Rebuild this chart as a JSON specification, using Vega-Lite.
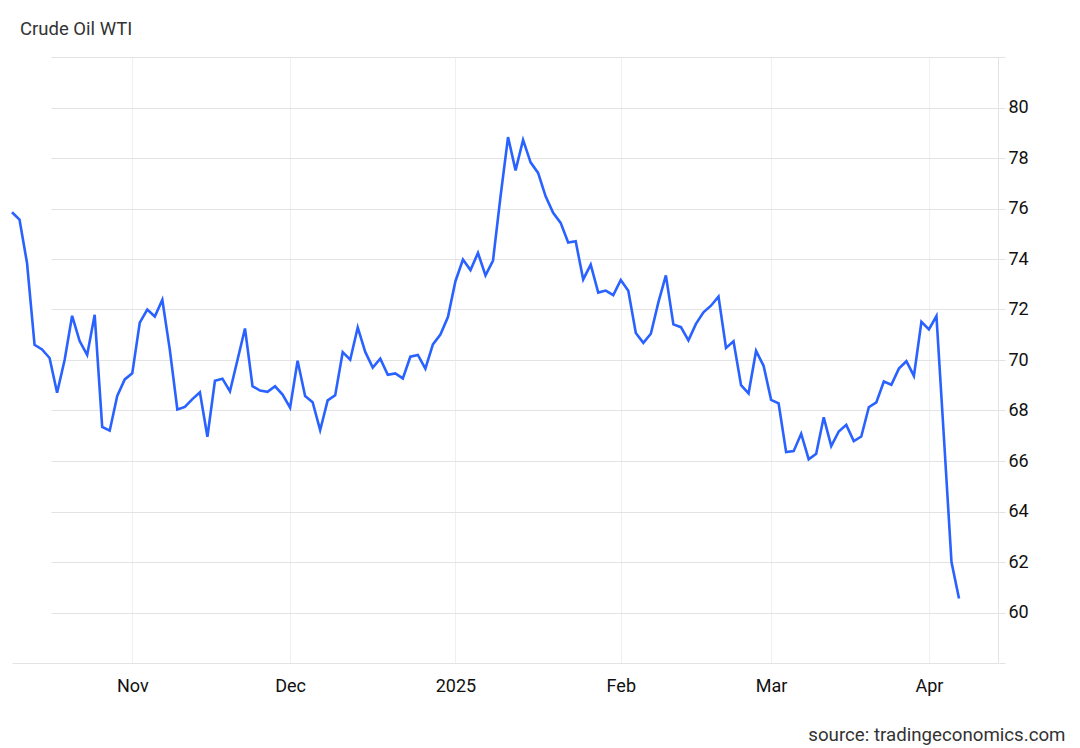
{
  "$schema": "https://vega.github.io/schema/vega-lite/v6.json",
  "autosize": {"type": "none"},
  "width": 986,
  "height": 606,
  "padding": {"left": 12, "top": 57, "right": 82, "bottom": 85},
  "background": "white",
  "config": {
    "font": "Roboto",
    "view": {"stroke": null}
  },
  "title": {
    "text": "Crude Oil WTI",
    "anchor": "start",
    "frame": "group",
    "font": "Roboto",
    "fontSize": 18.5,
    "fontWeight": "normal",
    "color": "#333333",
    "baseline": "alphabetic",
    "offset": 3,
    "dx": 8
  },
  "data": {
    "values": [
      {"date": "2024-10-10", "price": 75.85},
      {"date": "2024-10-11", "price": 75.56},
      {"date": "2024-10-14", "price": 73.84},
      {"date": "2024-10-15", "price": 70.6},
      {"date": "2024-10-16", "price": 70.42},
      {"date": "2024-10-17", "price": 70.08},
      {"date": "2024-10-18", "price": 68.7},
      {"date": "2024-10-21", "price": 70.0},
      {"date": "2024-10-22", "price": 71.75},
      {"date": "2024-10-23", "price": 70.75},
      {"date": "2024-10-24", "price": 70.2},
      {"date": "2024-10-25", "price": 71.79},
      {"date": "2024-10-28", "price": 67.35},
      {"date": "2024-10-29", "price": 67.2},
      {"date": "2024-10-30", "price": 68.58},
      {"date": "2024-10-31", "price": 69.23},
      {"date": "2024-11-01", "price": 69.47},
      {"date": "2024-11-04", "price": 71.48},
      {"date": "2024-11-05", "price": 72.0},
      {"date": "2024-11-06", "price": 71.72},
      {"date": "2024-11-07", "price": 72.38},
      {"date": "2024-11-08", "price": 70.4},
      {"date": "2024-11-11", "price": 68.04},
      {"date": "2024-11-12", "price": 68.14},
      {"date": "2024-11-13", "price": 68.45},
      {"date": "2024-11-14", "price": 68.72},
      {"date": "2024-11-15", "price": 66.96},
      {"date": "2024-11-18", "price": 69.18},
      {"date": "2024-11-19", "price": 69.26},
      {"date": "2024-11-20", "price": 68.76},
      {"date": "2024-11-21", "price": 70.0},
      {"date": "2024-11-22", "price": 71.25},
      {"date": "2024-11-25", "price": 68.96},
      {"date": "2024-11-26", "price": 68.79},
      {"date": "2024-11-27", "price": 68.74},
      {"date": "2024-11-28", "price": 68.96},
      {"date": "2024-11-29", "price": 68.63},
      {"date": "2024-12-02", "price": 68.11},
      {"date": "2024-12-03", "price": 69.97},
      {"date": "2024-12-04", "price": 68.57},
      {"date": "2024-12-05", "price": 68.33},
      {"date": "2024-12-06", "price": 67.22},
      {"date": "2024-12-09", "price": 68.4},
      {"date": "2024-12-10", "price": 68.6},
      {"date": "2024-12-11", "price": 70.31},
      {"date": "2024-12-12", "price": 70.01},
      {"date": "2024-12-13", "price": 71.29},
      {"date": "2024-12-16", "price": 70.32},
      {"date": "2024-12-17", "price": 69.7},
      {"date": "2024-12-18", "price": 70.05},
      {"date": "2024-12-19", "price": 69.41},
      {"date": "2024-12-20", "price": 69.47},
      {"date": "2024-12-23", "price": 69.27},
      {"date": "2024-12-24", "price": 70.13},
      {"date": "2024-12-25", "price": 70.2},
      {"date": "2024-12-26", "price": 69.66},
      {"date": "2024-12-27", "price": 70.62},
      {"date": "2024-12-30", "price": 71.01},
      {"date": "2024-12-31", "price": 71.7},
      {"date": "2025-01-02", "price": 73.12},
      {"date": "2025-01-03", "price": 73.98},
      {"date": "2025-01-06", "price": 73.56},
      {"date": "2025-01-07", "price": 74.24},
      {"date": "2025-01-08", "price": 73.35},
      {"date": "2025-01-09", "price": 73.94},
      {"date": "2025-01-10", "price": 76.48},
      {"date": "2025-01-13", "price": 78.83},
      {"date": "2025-01-14", "price": 77.51},
      {"date": "2025-01-15", "price": 78.72},
      {"date": "2025-01-16", "price": 77.83},
      {"date": "2025-01-17", "price": 77.41},
      {"date": "2025-01-20", "price": 76.48},
      {"date": "2025-01-21", "price": 75.83},
      {"date": "2025-01-22", "price": 75.43},
      {"date": "2025-01-23", "price": 74.65},
      {"date": "2025-01-24", "price": 74.7},
      {"date": "2025-01-27", "price": 73.19},
      {"date": "2025-01-28", "price": 73.78},
      {"date": "2025-01-29", "price": 72.67},
      {"date": "2025-01-30", "price": 72.75},
      {"date": "2025-01-31", "price": 72.57},
      {"date": "2025-02-03", "price": 73.17},
      {"date": "2025-02-04", "price": 72.74},
      {"date": "2025-02-05", "price": 71.07},
      {"date": "2025-02-06", "price": 70.68},
      {"date": "2025-02-07", "price": 71.04},
      {"date": "2025-02-10", "price": 72.28},
      {"date": "2025-02-11", "price": 73.35},
      {"date": "2025-02-12", "price": 71.41},
      {"date": "2025-02-13", "price": 71.3},
      {"date": "2025-02-14", "price": 70.78},
      {"date": "2025-02-17", "price": 71.43},
      {"date": "2025-02-18", "price": 71.89},
      {"date": "2025-02-19", "price": 72.15},
      {"date": "2025-02-20", "price": 72.51},
      {"date": "2025-02-21", "price": 70.48},
      {"date": "2025-02-24", "price": 70.74},
      {"date": "2025-02-25", "price": 69.0},
      {"date": "2025-02-26", "price": 68.68},
      {"date": "2025-02-27", "price": 70.36},
      {"date": "2025-02-28", "price": 69.77},
      {"date": "2025-03-03", "price": 68.42},
      {"date": "2025-03-04", "price": 68.28},
      {"date": "2025-03-05", "price": 66.35},
      {"date": "2025-03-06", "price": 66.39},
      {"date": "2025-03-07", "price": 67.08},
      {"date": "2025-03-10", "price": 66.07},
      {"date": "2025-03-11", "price": 66.29},
      {"date": "2025-03-12", "price": 67.73},
      {"date": "2025-03-13", "price": 66.59},
      {"date": "2025-03-14", "price": 67.17},
      {"date": "2025-03-17", "price": 67.43},
      {"date": "2025-03-18", "price": 66.79},
      {"date": "2025-03-19", "price": 66.97},
      {"date": "2025-03-20", "price": 68.13},
      {"date": "2025-03-21", "price": 68.32},
      {"date": "2025-03-24", "price": 69.15},
      {"date": "2025-03-25", "price": 69.02},
      {"date": "2025-03-26", "price": 69.66},
      {"date": "2025-03-27", "price": 69.95},
      {"date": "2025-03-28", "price": 69.37},
      {"date": "2025-03-31", "price": 71.51},
      {"date": "2025-04-01", "price": 71.21},
      {"date": "2025-04-02", "price": 71.74},
      {"date": "2025-04-03", "price": 66.9},
      {"date": "2025-04-04", "price": 62.0},
      {"date": "2025-04-07", "price": 60.55}
    ]
  },
  "mark": {"type": "line", "color": "#2962ff", "strokeWidth": 2.6, "strokeJoin": "miter", "interpolate": "linear"},
  "encoding": {
    "x": {
      "field": "date",
      "type": "ordinal",
      "sort": "ascending",
      "scale": {"type": "point", "padding": 0, "range": [0, 947]},
      "axis": {
        "values": ["2024-11-01", "2024-12-02", "2025-01-02", "2025-02-03", "2025-03-03", "2025-04-01"],
        "labelExpr": "datum.value == '2024-11-01' ? 'Nov' : datum.value == '2024-12-02' ? 'Dec' : datum.value == '2025-01-02' ? '2025' : datum.value == '2025-02-03' ? 'Feb' : datum.value == '2025-03-03' ? 'Mar' : 'Apr'",
        "labelAngle": 0,
        "labelFont": "Roboto",
        "labelFontSize": 18,
        "labelColor": "#111111",
        "labelPadding": 14,
        "labelBaseline": "top",
        "ticks": false,
        "domain": true,
        "domainColor": "#e3e3e3",
        "domainWidth": 1,
        "grid": true,
        "gridColor": "#edf1f6",
        "gridWidth": 1,
        "title": "source: tradingeconomics.com",
        "titleFont": "Roboto",
        "titleFontSize": 18.7,
        "titleFontWeight": "normal",
        "titleColor": "#333333",
        "titleAlign": "right",
        "titleBaseline": "alphabetic",
        "titleX": 1053,
        "titleY": 77
      }
    },
    "y": {
      "field": "price",
      "type": "quantitative",
      "scale": {"domain": [58, 82], "nice": false, "zero": false},
      "axis": {
        "orient": "right",
        "values": [58, 60, 62, 64, 66, 68, 70, 72, 74, 76, 78, 80, 82],
        "labelExpr": "datum.value == 58 || datum.value == 82 ? '' : datum.label",
        "labelFont": "Roboto",
        "labelFontSize": 18,
        "labelColor": "#111111",
        "labelPadding": 3,
        "ticks": true,
        "tickSize": 7,
        "tickColor": "#e3e3e3",
        "domain": true,
        "domainColor": "#e3e3e3",
        "grid": true,
        "gridColor": "#e3e3e3",
        "gridWidth": 1,
        "title": null
      }
    }
  }
}
